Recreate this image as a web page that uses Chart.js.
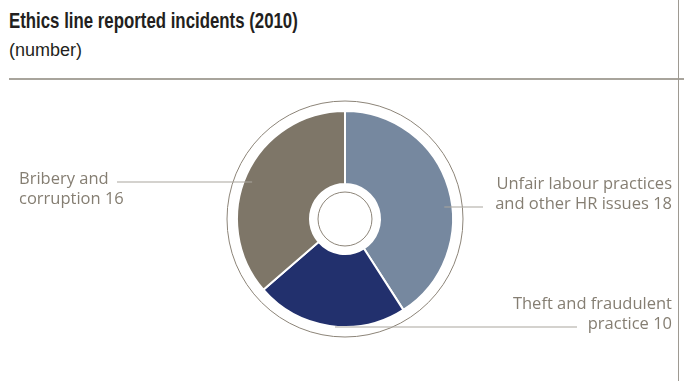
<!DOCTYPE html>
<html>
<head>
<meta charset="utf-8">
<script src="https://cdn.jsdelivr.net/npm/chart.js@4/dist/chart.umd.min.js"></script>
<style>
  body { margin: 0; background: #fff; }
  #wrap { position: relative; width: 684px; height: 381px; overflow: hidden; }
  #title { position: absolute; left: 9px; top: 8px; font: bold 22px "Liberation Sans", sans-serif; color: #231f20; white-space: nowrap; transform-origin: 0 0; }
  #sub { position: absolute; left: 9px; top: 40px; font: 18px "Liberation Sans", sans-serif; color: #231f20; white-space: nowrap; transform-origin: 0 0; }
  #hline { position: absolute; left: 9px; right: 0; top: 78px; height: 2px; background: #a8a49c; }
  #vline { position: absolute; left: 678px; top: 0; width: 1px; height: 381px; background: #9e9a92; }
  canvas { position: absolute; left: 0; top: 0; }
</style>
</head>
<body>
<div id="wrap">
  <div id="title">Ethics line reported incidents (2010)</div>
  <div id="sub">(number)</div>
  <div id="hline"></div>
  <div id="vline"></div>
  <canvas id="myChart" width="684" height="381"></canvas>
</div>
<script>
// slices go clockwise from 12 o'clock
const categories = ['Unfair labour practices and other HR issues', 'Theft and fraudulent practice', 'Bribery and corruption'];
const values = [18, 10, 16];
const colours = ['#76889f', '#22306d', '#7e7668'];

// label text lines, where the text sits and which side it's aligned to
const labelLines = [
    ['Unfair labour practices', 'and other HR issues 18'],
    ['Theft and fraudulent', 'practice 10'],
    ['Bribery and', 'corruption 16']
];
const labelSpots = [
    { x: 672, y: 184, align: 'right', lineRow: 1, lineEnd: 483, r: 100 },
    { x: 672, y: 304, align: 'right', lineRow: 1, lineEnd: 577, r: 106 },
    { x: 19, y: 179, align: 'left', lineRow: 0, lineEnd: 117, r: 100 }
];

// the title is a condensed face in the original, squeeze ours to the same width
const title = document.getElementById('title');
title.style.transform = 'scaleX(' + (289 / title.offsetWidth) + ')';

const rings = {
    id: 'rings',
    afterDatasetsDraw(chart) {
        const ctx = chart.ctx;
        const arc = chart.getDatasetMeta(0).data[0];
        const cx = arc.x, cy = arc.y;
        const R = arc.outerRadius, r = arc.innerRadius;

        ctx.save();
        ctx.strokeStyle = '#8c8478';
        ctx.lineWidth = 1;
        ctx.beginPath();
        ctx.arc(cx, cy, R + 10, 0, Math.PI * 2);
        ctx.stroke();
        ctx.beginPath();
        ctx.arc(cx, cy, r - 8, 0, Math.PI * 2);
        ctx.stroke();

        // labels + leader lines
        ctx.font = '16.5px "Open Sans", sans-serif';
        ctx.fillStyle = '#857e72';
        ctx.textBaseline = 'middle';
        labelSpots.forEach((s, i) => {
            ctx.textAlign = s.align;
            labelLines[i].forEach((t, k) => ctx.fillText(t, s.x, s.y + k * 20));
            const ly = s.y + s.lineRow * 20 + 3;
            const dy = ly - cy;
            const dx = Math.sqrt(Math.max(s.r * s.r - dy * dy, 0));
            let sx;
            if (s.align === 'left') sx = cx - dx;
            else if (i === 1) sx = cx - 10;
            else sx = cx + dx;
            ctx.strokeStyle = '#aaa69e';
            ctx.lineWidth = 1.2;
            ctx.beginPath();
            ctx.moveTo(sx, ly);
            ctx.lineTo(s.lineEnd, ly);
            ctx.stroke();
        });
        ctx.restore();
    }
};

new Chart(document.getElementById('myChart'), {
    type: 'doughnut',
    data: {
        labels: categories,
        datasets: [{
            data: values,
            backgroundColor: colours,
            borderColor: '#ffffff',
            borderWidth: 2,
            radius: 108,
            cutout: '32.4%'
        }]
    },
    options: {
        responsive: false,
        animation: false,
        layout: { padding: { left: 6, right: 0, top: 57, bottom: 0 } },
        plugins: { legend: { display: false }, tooltip: { enabled: false } }
    },
    plugins: [rings]
});
</script>
</body>
</html>
